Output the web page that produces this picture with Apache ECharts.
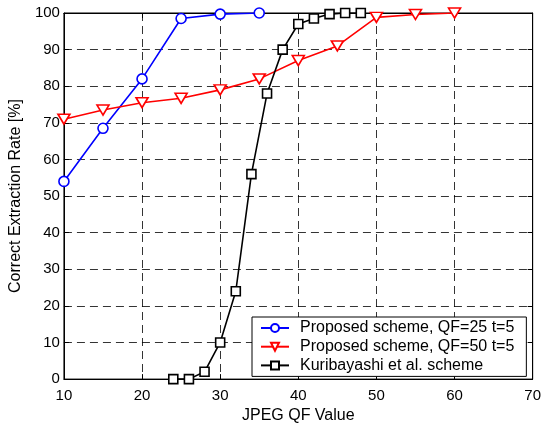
<!DOCTYPE html>
<html><head><meta charset="utf-8">
<script src="https://cdn.jsdelivr.net/npm/echarts@6/dist/echarts.min.js"></script>
<style>html,body{margin:0;padding:0;background:#fff}#c{width:544px;height:429px}</style>
</head><body><div id="c"></div>
<script>
const seriesNames = ['Proposed scheme, QF=25 t=5','Proposed scheme, QF=50 t=5','Kuribayashi et al. scheme'];
const blueX = [10,15,20,25,30,35];
const blueY = [54,68.5,82,98.5,99.7,100];
const redX = [10,15,20,25,30,35,40,45,50,55,60];
const redY = [71,73.5,75.5,76.7,79,82,87,91,98.8,99.6,100];
const blackX = [24,26,28,30,32,34,36,38,40,42,44,46,48];
const blackY = [0,0,2,10,24,56,78,90,97,98.5,99.7,100,100];
const xTicks = [10,20,30,40,50,60,70];
const yTicks = [0,10,20,30,40,50,60,70,80,90,100];
const zip = (a,b)=>a.map((v,i)=>[v,b[i]]);
const font = 'Arial, "Liberation Sans", Helvetica, sans-serif';
const chart = echarts.init(document.getElementById('c'));
const tick = {show:true,inside:true,length:5,lineStyle:{color:'#000',width:1}};
const axLine = {show:true,onZero:false,lineStyle:{color:'#000',width:1}};
const split = {show:true,lineStyle:{color:'#000',type:[8,5],width:0.8}};
const nameStyle = {color:'#000',fontSize:16,fontFamily:font};
chart.setOption({
  animation:false,
  backgroundColor:'#fff',
  grid:{left:62,right:11,top:13,bottom:45,show:true,borderColor:'#000',borderWidth:1},
  xAxis:[
    {type:'value',min:xTicks[0],max:xTicks[xTicks.length-1],interval:10,position:'bottom',
     name:'JPEG QF Value',nameLocation:'middle',nameGap:27,nameTextStyle:nameStyle,
     axisLine:axLine,axisTick:tick,splitLine:split,
     axisLabel:{color:'#000',fontSize:15,fontFamily:font,margin:9}},
    {type:'value',min:xTicks[0],max:xTicks[xTicks.length-1],interval:10,position:'top',
     axisLine:axLine,axisTick:tick,splitLine:{show:false},axisLabel:{show:false}}
  ],
  yAxis:[
    {type:'value',min:yTicks[0],max:yTicks[yTicks.length-1],interval:10,position:'left',
     name:'Correct Extraction Rate [%]',nameLocation:'middle',nameGap:39,nameTextStyle:nameStyle,
     axisLine:axLine,axisTick:tick,splitLine:split,
     axisLabel:{color:'#000',fontSize:15,fontFamily:font,margin:4}},
    {type:'value',min:yTicks[0],max:yTicks[yTicks.length-1],interval:10,position:'right',
     axisLine:axLine,axisTick:tick,splitLine:{show:false},axisLabel:{show:false}}
  ],
  legend:{
    orient:'vertical',left:252,top:317,
    backgroundColor:'#fff',borderColor:'#000',borderWidth:1,
    padding:[3,12,3,8],itemGap:2.7,itemWidth:28,itemHeight:10,
    textStyle:{color:'#000',fontSize:16,fontFamily:font,lineHeight:16,padding:[0,0,0,6]},
    data:seriesNames
  },
  series:[
    {name:seriesNames[0],type:'line',data:zip(blueX,blueY),symbol:'circle',symbolSize:10,
     lineStyle:{color:'#0000ff',width:1.6},itemStyle:{color:'#fff',borderColor:'#0000ff',borderWidth:1.6},color:'#0000ff'},
    {name:seriesNames[1],type:'line',data:zip(redX,redY),symbol:'triangle',symbolRotate:180,symbolSize:[12,10],
     lineStyle:{color:'#ff0000',width:1.6},itemStyle:{color:'#fff',borderColor:'#ff0000',borderWidth:1.6},color:'#ff0000'},
    {name:seriesNames[2],type:'line',data:zip(blackX,blackY),symbol:'rect',symbolSize:9,
     lineStyle:{color:'#000',width:1.6},itemStyle:{color:'#fff',borderColor:'#000',borderWidth:1.6},color:'#000'}
  ]
});
</script></body></html>
